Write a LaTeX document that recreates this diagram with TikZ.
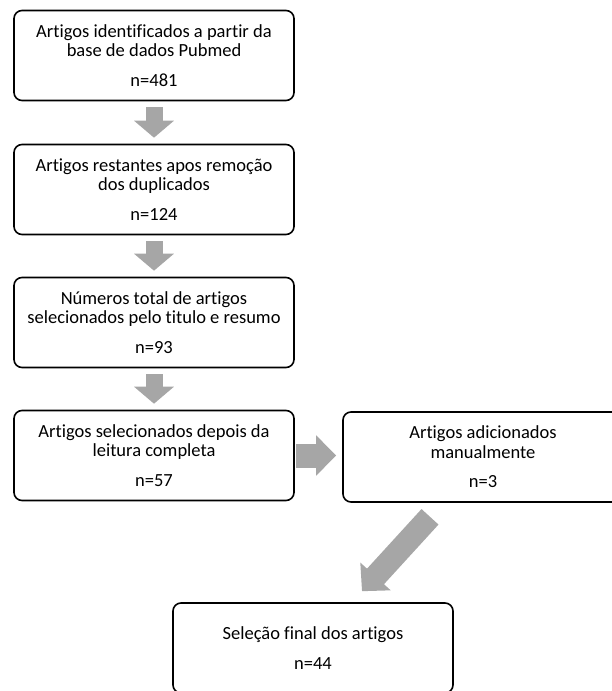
\documentclass[tikz,border=0pt]{standalone}
\usepackage{fontspec}
\setmainfont{Carlito}[Ligatures={NoCommon}]
\usetikzlibrary{arrows.meta}
\definecolor{arrowgray}{RGB}{166,166,166}
\tikzset{
  box/.style={draw=black, line width=1.6pt, rounded corners=8pt, minimum width=280pt,
    minimum height=90pt, align=center, inner sep=0pt, fill=white,
    font=\fontsize{18.5}{19.5}\selectfont},
  vblock/.style={draw=arrowgray, line width=17pt, -{Triangle[width=39pt,length=17pt,fill=arrowgray]}},
  hblock/.style={draw=arrowgray, line width=24pt, -{Triangle[width=39pt,length=20pt,fill=arrowgray]}},
  dblock/.style={draw=arrowgray, line width=23pt, -{Triangle[width=40pt,length=20pt,fill=arrowgray]}}
}
\begin{document}
\begin{tikzpicture}[x=1pt,y=1pt]
\clip (0,0) rectangle (612,-691);
\fill[white] (0,0) rectangle (612,-691);
\node[box] (b1) at (154,-55.5) {Artigos identificados a partir da\\base de dados Pubmed\\[10pt]n=481};
\node[box] (b2) at (154,-189.5) {Artigos restantes apos remoção\\dos duplicados\\[10pt]n=124};
\node[box] (b3) at (154,-322.5) {Números total de artigos\\selecionados pelo titulo e resumo\\[10pt]n=93};
\node[box] (b4) at (154,-455.5) {Artigos selecionados depois da\\leitura completa\\[10pt]n=57};
\node[box] (b5) at (483,-457) {Artigos adicionados\\manualmente\\[10pt]n=3};
\node[box] (b6) at (313,-648) {Seleção final dos artigos\\[10pt]n=44};
\draw[vblock] ([yshift=-6pt]b1.south) -- ([yshift=6pt]b2.north);
\draw[vblock] ([yshift=-6pt]b2.south) -- ([yshift=6pt]b3.north);
\draw[vblock] ([yshift=-6pt]b3.south) -- ([yshift=6pt]b4.north);
\draw[hblock] ([xshift=1pt]b4.east) -- ([xshift=-6pt]b4.east -| b5.west);
\draw[dblock] ([xshift=-53pt,yshift=-14pt]b5.south) -- ([xshift=49pt,yshift=11pt]b6.north);
\end{tikzpicture}
\end{document}
